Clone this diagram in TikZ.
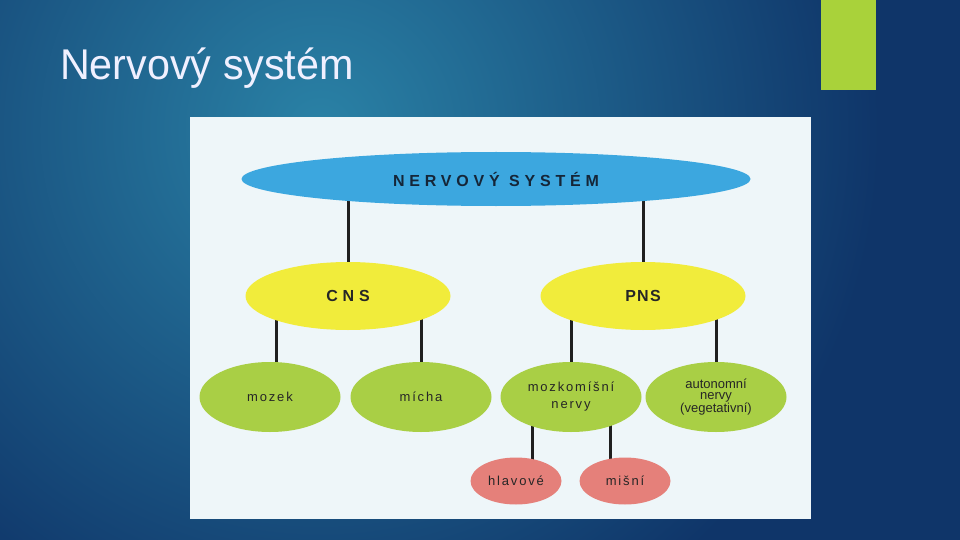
\documentclass[tikz,border=0pt]{standalone}
\usepackage{fontspec}
\setmainfont{Liberation Sans}
\newfontfamily\widefont[LetterSpace=30]{Liberation Sans}
\newfontfamily\semifont[LetterSpace=8]{Liberation Sans}
\newfontfamily\smfont[LetterSpace=14]{Liberation Sans}
\usetikzlibrary{shapes.geometric}
\definecolor{bgdark}{HTML}{0F3569}
\definecolor{bglight}{HTML}{2A82A6}
\definecolor{barg}{HTML}{A9D23A}
\definecolor{panelc}{HTML}{EEF6F9}
\definecolor{nsblue}{HTML}{3CA7DF}
\definecolor{cnsy}{HTML}{F1EC3B}
\definecolor{leafg}{HTML}{A9CF45}
\definecolor{pinkc}{HTML}{E5807A}
\definecolor{navytxt}{HTML}{152638}
\definecolor{txtc}{HTML}{262626}
\pgfdeclarelayer{bg}
\pgfdeclarelayer{lines}
\pgfsetlayers{bg,lines,main}
\tikzset{
  ell/.style={ellipse, inner sep=0pt, draw=none},
  nsbox/.style={ell, fill=nsblue, minimum width=509pt, minimum height=54pt, text=navytxt, font=\widefont\bfseries\fontsize{16}{18}\selectfont},
  levtwo/.style={ell, fill=cnsy, minimum width=205pt, minimum height=68pt, text=txtc, font=\bfseries\fontsize{16}{18}\selectfont},
  leaf/.style={ell, fill=leafg, minimum width=141pt, minimum height=70pt, text=txtc, align=center, font=\smfont\fontsize{13}{17}\selectfont},
  pinkbox/.style={ell, fill=pinkc, minimum width=91pt, minimum height=47pt, text=txtc, font=\smfont\fontsize{13}{15}\selectfont},
  conn/.style={draw=black!88, line width=3pt}
}
\begin{document}
\begin{tikzpicture}[x=1pt,y=-1pt]
\useasboundingbox (0,0) rectangle (960,540);
\begin{pgfonlayer}{bg}
  \fill[bgdark] (0,0) rectangle (960,540);
  \begin{scope}
    \clip (0,0) rectangle (960,540);
    \shade[inner color=bglight, outer color=bgdark] (320,130) circle (560pt);
  \end{scope}
  \fill[barg] (821,0) rectangle (876,90);
  \fill[panelc] (190,117) rectangle (811,519);
\end{pgfonlayer}

\node[anchor=base west, text=white!94!blue, font=\fontsize{43}{50}\selectfont, xscale=0.96, inner sep=0pt] (title) at (60,80) {Nervový systém};

\node[nsbox] (ns) at (496,179) {NERVOVÝ SYSTÉM};
\node[levtwo] (cns) at (348,296) {{\widefont CNS}};
\node[levtwo] (pns) at (643,296) {{\semifont PNS}};
\node[leaf] (mozek) at (270,397) {mozek};
\node[leaf] (micha) at (421,397) {mícha};
\node[leaf] (mozk) at (571,397) {mozkomíšní\\nervy};
\node[leaf, font=\fontsize{13}{11.5}\selectfont] (auto) at (716,397) {autonomní\\nervy\\(vegetativní)};
\node[pinkbox] (hlav) at (516,481) {hlavové};
\node[pinkbox] (misni) at (625,481) {mišní};

\begin{pgfonlayer}{lines}
  \draw[conn] (cns) -- (cns |- ns);
  \draw[conn] (pns) -- (pns |- ns);
  \draw[conn] ([xshift=6pt]mozek.center) -- ([xshift=6pt]mozek.center |- cns);
  \draw[conn] (micha) -- (micha |- cns);
  \draw[conn] (mozk) -- (mozk |- pns);
  \draw[conn] (auto) -- (auto |- pns);
  \draw[conn] ([xshift=16pt]hlav.center) -- ([xshift=16pt]hlav.center |- mozk);
  \draw[conn] ([xshift=-15pt]misni.center) -- ([xshift=-15pt]misni.center |- mozk);
\end{pgfonlayer}
\end{tikzpicture}
\end{document}
